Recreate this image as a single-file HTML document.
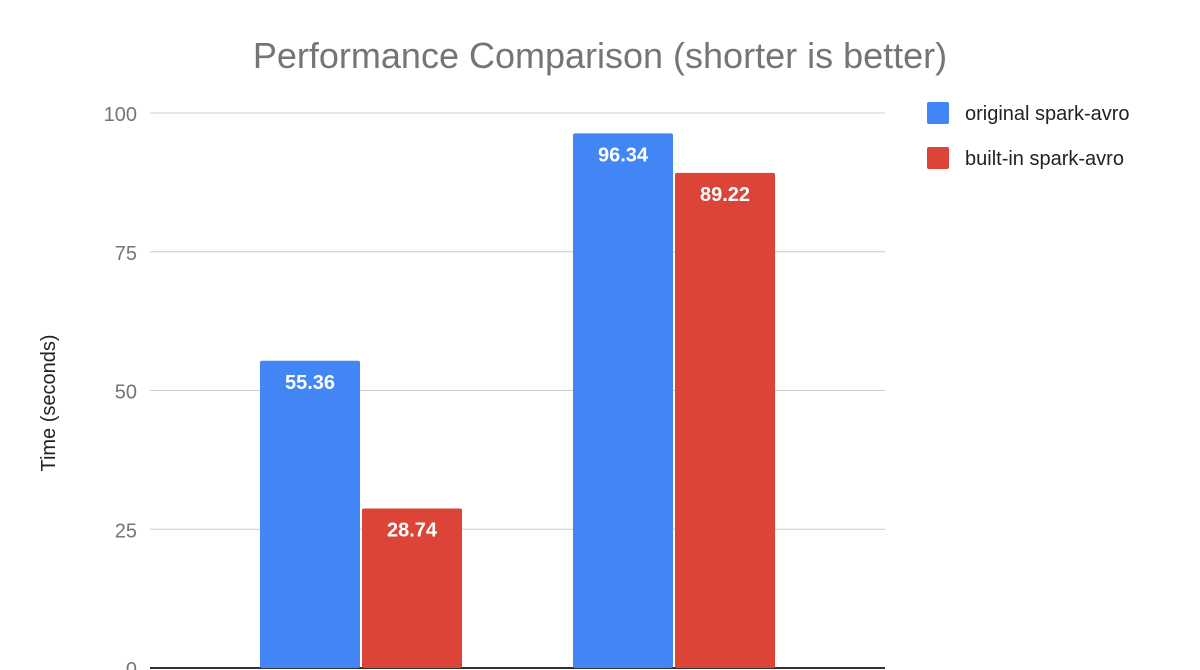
<!DOCTYPE html>
<html><head><meta charset="utf-8"><style>
body{margin:0;background:#fff;}
svg{display:block;font-family:"Liberation Sans",Arial,sans-serif;}
</style></head><body>
<svg id="chart" width="1200" height="670">
<text x="600" y="68" text-anchor="middle" font-size="36" fill="#757575">Performance Comparison (shorter is better)</text>
<text transform="translate(55,403) rotate(-90)" text-anchor="middle" font-size="20" fill="#222">Time (seconds)</text>
<g id="grid"></g><g id="bars"></g>
<g>
<rect x="927" y="102" width="22" height="22" rx="2" fill="#4285f4"/>
<text x="965" y="120" font-size="20" fill="#222">original spark-avro</text>
<rect x="927" y="147" width="22" height="22" rx="2" fill="#db4437"/>
<text x="965" y="165" font-size="20" fill="#222">built-in spark-avro</text>
</g>
</svg>
<script>
const categories=["Test 1","Test 2"];
const originalValues=[55.36,96.34];
const builtinValues=[28.74,89.22];
const tickValues=[0,25,50,75,100];
const svg=document.getElementById('chart');
const NS='http://www.w3.org/2000/svg';
const y0=668,yTop=113,plotL=150,plotR=885;
function yScale(v){return y0-(v/100)*(y0-yTop);}
function xGroup(i){return 260+i*313;}
function mk(t,a,p){const e=document.createElementNS(NS,t);for(const k in a)e.setAttribute(k,a[k]);p.appendChild(e);return e;}
const grid=document.getElementById('grid');
tickValues.forEach(v=>{
 const y=yScale(v);
 const l=mk('line',{x1:plotL,x2:plotR,y1:y,y2:y,stroke:v===0?'#333':'#ccc','stroke-width':v===0?2:1},grid);
 
 
 const t=mk('text',{x:137,y:y+8,'text-anchor':'end','font-size':20,fill:'#757575'},grid);
 t.textContent=v;
 
 
});
const bars=document.getElementById('bars');
const series=[{vals:originalValues,color:'#4285f4',off:0,n:'original'},{vals:builtinValues,color:'#db4437',off:102,n:'builtin'}];
categories.forEach((c,i)=>{
 series.forEach(s=>{
  const v=s.vals[i],x=xGroup(i)+s.off,y=yScale(v);
  const r=mk('rect',{x:x,y:y,width:100,height:y0-y,fill:s.color,rx:2},bars);
  
  
  const t=mk('text',{x:x+50,y:y+28,'text-anchor':'middle','font-size':20,'font-weight':'bold',fill:'#fff'},bars);
  t.textContent=v.toFixed(2);
  
  
 });
});
</script>
</body></html>
